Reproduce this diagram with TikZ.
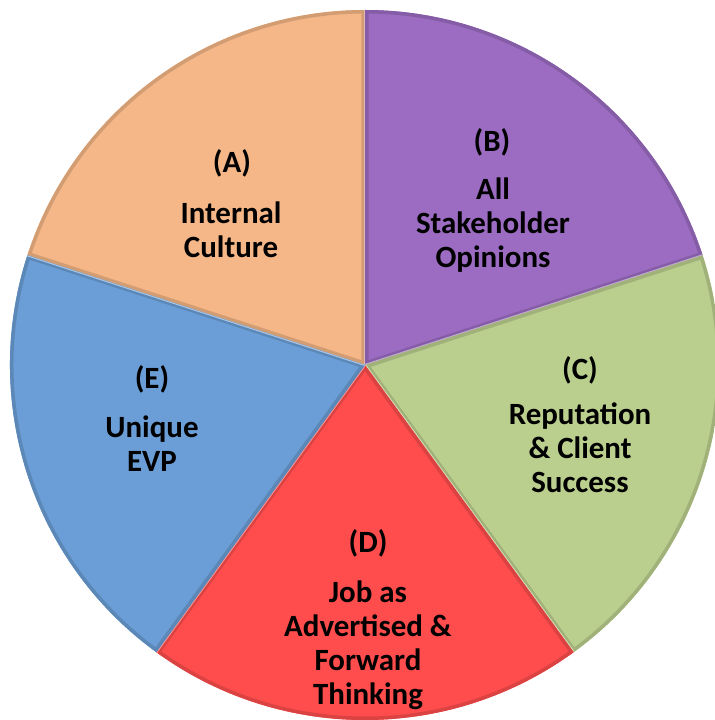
\documentclass[tikz,border=0pt]{standalone}
\usepackage{fontspec}
\setmainfont{Carlito}

\definecolor{sliceA}{HTML}{F5B787}
\definecolor{sliceB}{HTML}{9B6CC1}
\definecolor{sliceC}{HTML}{BACF8E}
\definecolor{sliceD}{HTML}{FF4D4D}
\definecolor{sliceE}{HTML}{6B9ED6}

\begin{document}
\begin{tikzpicture}[x=1cm,y=1cm]
  \tikzstyle{every node}=[font=\fontsize{17.6}{19.4}\selectfont\bfseries,align=center,text=black]
  \useasboundingbox (-7.3,-7.1) rectangle (6.98,7.3);

  % five equal slices, bevelled rim
  \foreach \col/\from/\to in {sliceA/90/162, sliceB/18/90, sliceC/-54/18, sliceD/-126/-54, sliceE/162/234}{
    \fill[\col] (0,0) -- (\from:7.1) arc (\from:\to:7.1) -- cycle;
    \begin{scope}
      \clip (0,0) -- (\from:7.1) arc (\from:\to:7.1) -- cycle;
      \draw[\col!86!black,line width=4pt] (0,0) -- (\from:7.1) arc (\from:\to:7.1) -- cycle;
      \draw[\col!60!white,line width=1.2pt] (0,0) -- (\from:7.1);
    \end{scope}
  }

        \node (A)    at (-2.66,4.04) {(A)};
        \node (Atxt) at (-2.68,2.70) {Internal\\Culture};
        \node (B)    at (2.54,4.46)  {(B)};
        \node (Btxt) at (2.56,2.80)  {All\\Stakeholder\\Opinions};
        \node (C)    at (4.30,-0.10) {(C)};
        \node (Ctxt) at (4.30,-1.66) {Reputation\\\& Client\\Success};
        \node (D)    at (0.06,-3.56) {(D)};
        \node (Dtxt) at (0.06,-5.60) {Job as\\Advertised \&\\Forward\\Thinking};
        \node (E)    at (-4.26,-0.28) {(E)};
        \node (Etxt) at (-4.26,-1.58) {Unique\\EVP};

\end{tikzpicture}
\end{document}
